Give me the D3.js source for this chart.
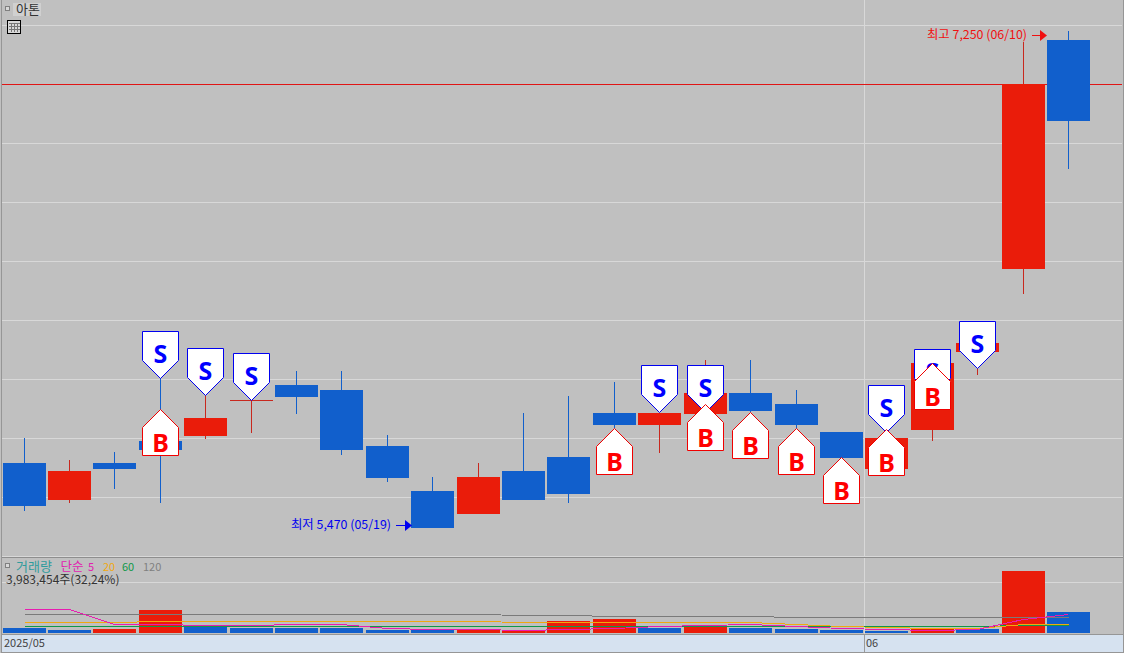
<!DOCTYPE html>
<html><head><meta charset="utf-8">
<script src="https://cdn.jsdelivr.net/npm/d3@7"></script>
<style>html,body{margin:0;padding:0;background:#c0c0c0;overflow:hidden}svg{display:block}
text{font-family:"Noto Sans CJK KR","Noto Sans",sans-serif}</style></head><body>
<svg id="c" width="1124" height="653"></svg>
<script>
const opens =[5703,5570,5703,5782,5799,5930,5982,5964,5764,5602,5520,5674,5724,5882,5839,5878,5953,5914,5814,5681,5821,6100,6398,7218];
const closes=[5549,5674,5681,5749,5864,5930,5939,5749,5649,5470,5653,5570,5592,5839,5882,5953,5889,5839,5721,5792,6061,6132,7060,6928];
const highs =[5792,5714,5742,6007,5946,5930,6032,6032,5803,5653,5703,5882,5943,5993,5882,6072,6072,5964,5814,5821,6061,6211,7211,7250];
const lows  =[5531,5560,5610,5560,5789,5810,5878,5731,5635,5470,5520,5570,5560,5828,5739,5878,5885,5825,5721,5681,5782,6018,6308,6756];
const volUp =[0,0,1,1,0,0,0,0,0,0,1,1,1,1,0,1,0,0,0,0,1,0,1,0];
const volumes=[949,626,759,4363,1138,949,949,949,569,569,683,569,2276,2656,949,1518,949,759,569,379,949,759,11761,3983];
const sellSignals=[[3,6007],[4,5946],[5,5930],[14,5885],[15,5885],[19,5814],[20,5943],[21,6043]];
const buySignals =[[3,5896],[13,5828],[15,5913],[16,5885],[17,5828],[18,5724],[19,5825],[20,6060]];
const ma5  =[4502,4502,1707,1707,1460,1460,1650,1650,949,702,702,569,759,1043,1233,1460,1650,1328,949,702,626,664,2656,3528];
const ma20 =[2030,2030,2030,2220,2220,2220,2220,2220,2220,2220,2220,2030,2030,2030,2030,2030,2030,1707,1233,1081,1043,1043,1650,1650];
const ma60 =[1271,1271,1271,1271,1271,1271,1271,1271,1271,1271,1271,1271,1271,1271,1271,1271,1271,1271,1271,1271,1271,1271,1460,1460];
const ma120=[3547,3547,3547,3547,3547,3547,3547,3547,3547,3547,3547,3357,3357,3167,3167,3167,3167,2978,2978,2978,2978,2978,2978,2978];
const gridPrices=[7271,7060,6849,6637,6426,6215,6004,5792,5581];
const volGrid=[9700];
const RED="#ea1c0a",BLUE="#115fcc";
const W=1124,H=653;
const svg=d3.select("#c");
const idx=d3.range(opens.length);
const x=d3.scaleBand().domain(idx).range([1.8025,1091.7625]).paddingInner(0.05318).paddingOuter(0.02659);
const lx=i=>Math.floor(x(i));
const bw=43;
const cx=i=>lx(i)+21.5;
const y=d3.scaleLinear().domain([7250,5470]).range([31,528]);
const yv=d3.scaleLinear().domain([0,3983]).range([633,612]);
const px=v=>Math.round(v);

svg.append("rect").attr("width",W).attr("height",H).attr("fill","#c0c0c0");
// grid
const g=svg.append("g").attr("shape-rendering","crispEdges");
g.selectAll(".gy").data(gridPrices).join("line").attr("x1",1).attr("x2",1122)
 .attr("y1",d=>px(y(d))+.5).attr("y2",d=>px(y(d))+.5).attr("stroke","#d8d8d8");
g.selectAll(".gv").data(volGrid).join("line").attr("x1",1).attr("x2",1122)
 .attr("y1",d=>px(yv(d))+.5).attr("y2",d=>px(yv(d))+.5).attr("stroke","#d8d8d8");
g.append("line").attr("x1",864.5).attr("x2",864.5).attr("y1",0).attr("y2",652).attr("stroke","#d8d8d8");
// reference price line
g.append("line").attr("x1",1).attr("x2",1122).attr("y1",px(y(7060))+.5).attr("y2",px(y(7060))+.5).attr("stroke","#e01515");

// candles
const cg=svg.append("g").attr("shape-rendering","crispEdges");
idx.forEach(i=>{
  const up=closes[i]>=opens[i], col=up?RED:BLUE;
  cg.append("line").attr("x1",cx(i)).attr("x2",cx(i)).attr("y1",px(y(highs[i]))).attr("y2",px(y(lows[i])))
    .attr("stroke",up?"#c8281e":BLUE);
  const top=px(y(Math.max(opens[i],closes[i]))),bot=px(y(Math.min(opens[i],closes[i])));
  if(bot-top<1){
    cg.append("line").attr("x1",lx(i)).attr("x2",lx(i)+bw).attr("y1",top+.5).attr("y2",top+.5).attr("stroke","#c8281e");
  } else {
    cg.append("rect").attr("x",lx(i)).attr("y",top).attr("width",bw).attr("height",bot-top).attr("fill",col);
  }
});

// signals
const mw=18,sh=18,smh=47,bmh=46;
const sg=svg.append("g");
sellSignals.forEach(([i,p])=>{
  const c=cx(i),t=px(y(p))+.5;
  sg.append("path").attr("d",`M${c},${t}L${c-mw},${t-sh}V${t-smh}H${c+mw}V${t-sh}Z`)
    .attr("fill","#fff").attr("stroke","#0000f0").attr("stroke-width",1);
  sg.append("text").attr("x",c).attr("y",t-smh+31).attr("text-anchor","middle")
    .attr("font-size",25).attr("font-weight",700).attr("fill","#0000ff").style("font-family","'Noto Sans',sans-serif").text("S");
});
buySignals.forEach(([i,p])=>{
  const c=cx(i),t=px(y(p))+.5;
  sg.append("path").attr("d",`M${c},${t}L${c-mw},${t+sh}V${t+bmh}H${c+mw}V${t+sh}Z`)
    .attr("fill","#fff").attr("stroke","#f00000").attr("stroke-width",1);
  sg.append("text").attr("x",c).attr("y",t+bmh-4).attr("text-anchor","middle")
    .attr("font-size",25).attr("font-weight",700).attr("fill","#ff0000").style("font-family","'Noto Sans',sans-serif").text("B");
});

// high/low notes
function note(txt,p,dy,col,xEnd,len){
  const yy=px(y(p))+dy;
  svg.append("text").attr("x",xEnd-len-5).attr("y",yy+4).attr("text-anchor","end").attr("font-size",12.4).attr("fill",col).text(txt);
  svg.append("line").attr("x1",xEnd-len).attr("x2",xEnd-6).attr("y1",yy+.5).attr("y2",yy+.5).attr("stroke",col).attr("shape-rendering","crispEdges");
  svg.append("path").attr("d",`M${xEnd-7},${yy-5}L${xEnd},${yy+.5}L${xEnd-7},${yy+6}Z`).attr("fill",col);
}
note("최고 7,250 (06/10)",7250,4,"#f01010",1047,15);
note("최저 5,470 (05/19)",5470,-3,"#0000f0",412,16);

// volume panel
const vg=svg.append("g").attr("shape-rendering","crispEdges");
vg.selectAll("rect").data(idx).join("rect").attr("x",i=>lx(i)).attr("width",bw)
  .attr("y",i=>px(yv(volumes[i]))).attr("height",i=>633-px(yv(volumes[i]))).attr("fill",i=>volUp[i]?RED:BLUE);
const ln=d3.line().x((d,i)=>cx(i)).y(d=>px(yv(d))+.5);
[[ma120,"#7a7a7a"],[ma60,"#109848"],[ma20,"#f0a810"],[ma5,"#e81cb0"]].forEach(([d,c])=>{
  svg.append("path").attr("d",ln(d)).attr("fill","none").attr("stroke",c).attr("stroke-width",1).attr("shape-rendering","crispEdges");
});

// x axis strip and frame
const fr=svg.append("g").attr("shape-rendering","crispEdges");
fr.append("rect").attr("x",2).attr("y",635).attr("width",1121).attr("height",17).attr("fill","#d6e2f0");
fr.append("line").attr("x1",864.5).attr("x2",864.5).attr("y1",635).attr("y2",652).attr("stroke","#9a9a9a");
fr.append("line").attr("x1",1).attr("x2",1124).attr("y1",634.5).attr("y2",634.5).attr("stroke","#969696");
fr.append("line").attr("x1",1).attr("x2",W).attr("y1",556.5).attr("y2",556.5).attr("stroke","#d8d8d8");
fr.append("line").attr("x1",1).attr("x2",W).attr("y1",557.5).attr("y2",557.5).attr("stroke","#8e8e8e");
fr.append("rect").attr("x",1.5).attr("y",-2).attr("width",1122).attr("height",654.5).attr("fill","none").attr("stroke","#969696");
const tl=[["2025/05",4],["06",866]];
tl.forEach(([t,xx])=>svg.append("text").attr("x",xx).attr("y",647).attr("font-size",11).attr("fill","#444").text(t));

// titles
fr.append("rect").attr("x",5.5).attr("y",6.5).attr("width",4).attr("height",4).attr("fill","#d8d8d8").attr("stroke","#808080");
fr.append("rect").attr("x",13).attr("y",3).attr("width",28).attr("height",13).attr("fill","#d0d0d0");
svg.append("text").attr("x",16).attr("y",14).attr("font-size",13).attr("fill","#333").text("아톤");
const ic=fr.append("g");
ic.append("rect").attr("x",7.5).attr("y",20.5).attr("width",13).attr("height",13).attr("fill","#d8d8d8").attr("stroke","#000");
[11.5,14.5,17.5].forEach(v=>ic.append("line").attr("x1",v).attr("x2",v).attr("y1",23).attr("y2",32).attr("stroke","#777"));
[23.5,26.5,29.5].forEach(v=>ic.append("line").attr("x1",9).attr("x2",20).attr("y1",v).attr("y2",v).attr("stroke","#777"));
fr.append("rect").attr("x",5.5).attr("y",563.5).attr("width",4).attr("height",4).attr("fill","#d8d8d8").attr("stroke","#808080");
[["거래량",16,"#2f9c9c",13],["단순",60.5,"#e020b0",12.5],["5",88,"#e020b0",11],["20",103,"#f0a810",11],["60",122,"#109848",11],["120",143,"#808080",11]]
 .forEach(([t,xx,c,fs])=>svg.append("text").attr("x",xx).attr("y",571).attr("font-size",fs).attr("fill",c).text(t));
svg.append("text").attr("x",6).attr("y",584).attr("font-size",12).attr("fill","#333").text("3,983,454주(32,24%)");
</script></body></html>
